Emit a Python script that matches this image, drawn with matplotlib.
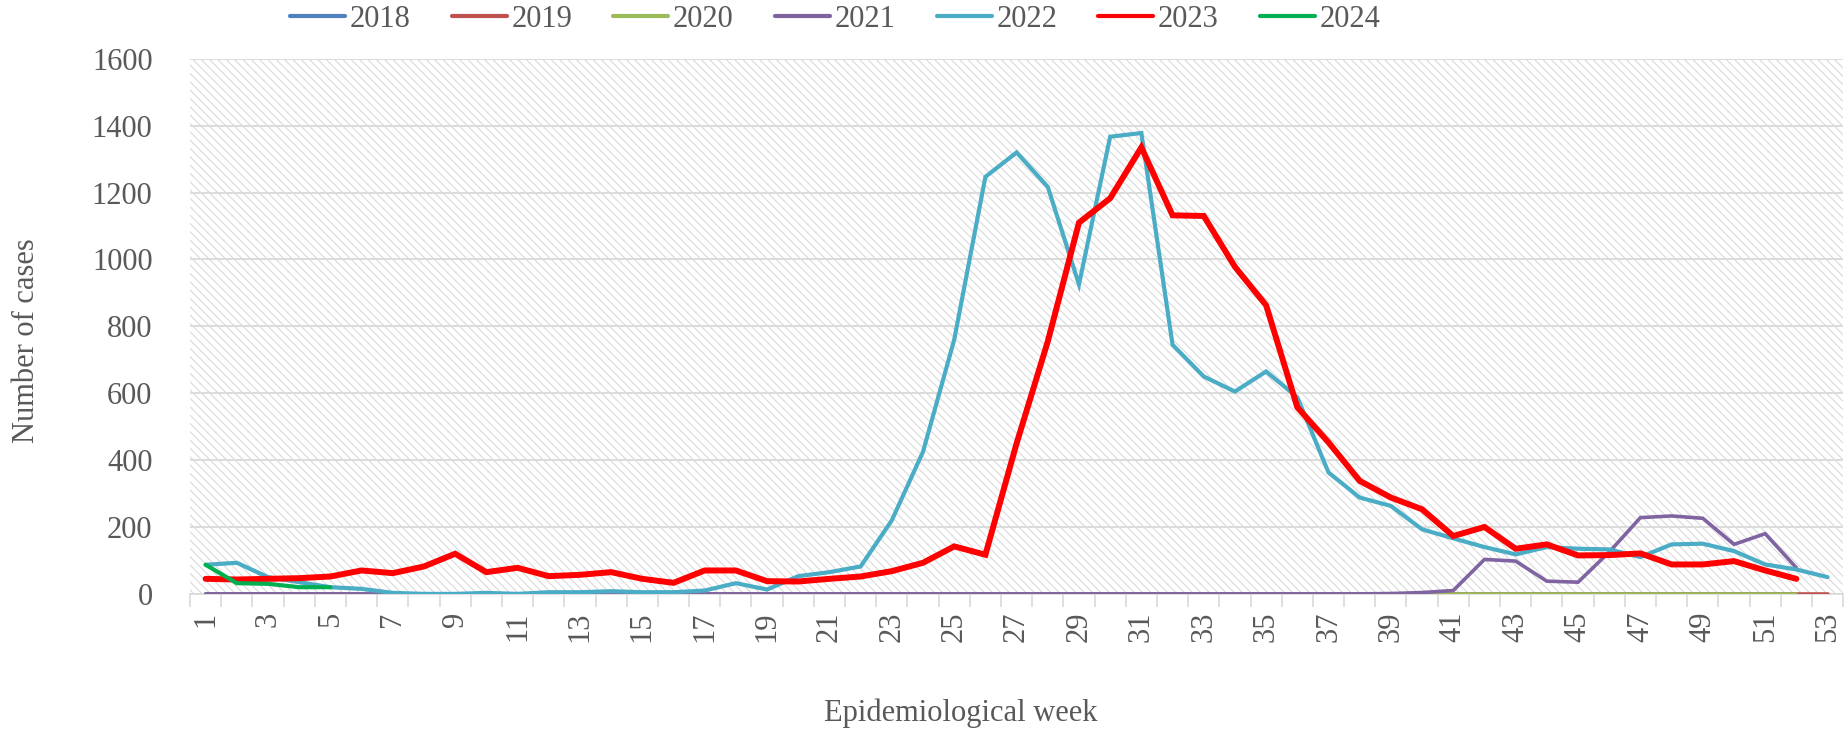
import matplotlib
matplotlib.use("Agg")
import matplotlib.pyplot as plt
from matplotlib.patches import Rectangle
import numpy as np

# weekly case counts per year
y2018 = [0, 0, 0, 0, 0, 0, 0, 0, 0, 0, 0, 0, 0, 0, 0, 0, 0, 0, 0, 0, 0, 0, 0, 0, 0, 0,
         0, 0, 0, 0, 0, 0, 0, 0, 0, 0, 0, 0, 0, 0, 0, 0, 0, 0, 0, 0, 0, 0, 0, 0, 0, 0]
y2019 = [0, 0, 0, 0, 0, 0, 0, 0, 0, 0, 0, 0, 0, 0, 0, 0, 0, 0, 0, 0, 0, 0, 0, 0, 0, 0,
         0, 0, 0, 0, 0, 0, 0, 0, 0, 0, 0, 0, 0, 0, 0, 0, 0, 0, 0, 0, 0, 0, 0, 0, 0, 0, 0]
y2020 = [0, 0, 0, 0, 0, 0, 0, 0, 0, 0, 0, 0, 0, 0, 0, 0, 0, 0, 0, 0, 0, 0, 0, 0, 0, 0,
         0, 0, 0, 0, 0, 0, 0, 0, 0, 0, 0, 0, 0, 0, 0, 0, 0, 0, 0, 0, 0, 0, 0, 0, 0, 0]
y2021 = [0, 0, 0, 0, 0, 0, 0, 0, 0, 0, 0, 0, 0, 0, 0, 0, 0, 0, 0, 0, 0, 0, 0, 0, 0, 0,
         0, 0, 0, 0, 0, 0, 0, 0, 0, 0, 0, 0, 1, 4, 10, 103, 98, 38, 35, 125, 228, 233,
         226, 148, 180, 78]
y2022 = [87, 93, 50, 35, 20, 15, 3, 0, 0, 3, 0, 5, 5, 8, 5, 5, 10, 32, 13, 53, 65, 82,
         220, 425, 760, 1247, 1320, 1217, 925, 1367, 1378, 745, 650, 605, 665, 588, 363,
         288, 263, 193, 166, 140, 118, 140, 135, 133, 110, 148, 150, 128, 88, 73, 50]
y2023 = [45, 43, 45, 47, 52, 70, 62, 82, 120, 65, 78, 53, 57, 65, 45, 33, 70, 70, 38,
         37, 45, 52, 68, 93, 142, 117, 450, 755, 1110, 1183, 1335, 1132, 1130, 978, 863,
         558, 453, 338, 288, 253, 173, 200, 135, 148, 115, 116, 121, 88, 88, 98, 70, 45]
y2024 = [87, 32, 30, 20, 20]

years = ['2018', '2019', '2020', '2021', '2022', '2023', '2024']
series = [y2018, y2019, y2020, y2021, y2022, y2023, y2024]
colors = ['#4F81BD', '#C0504D', '#9BBB59', '#8064A2', '#4BACC6', '#FF0000', '#00B050']
widths = [2.6, 2.6, 2.6, 2.6, 3.0, 4.3, 3.0]
weeks = np.arange(1, 54)
odd_weeks = weeks[::2]

txt = '#595959'
plt.rcParams['font.family'] = ['Liberation Serif', 'DejaVu Serif']
plt.rcParams['hatch.linewidth'] = 0.8

fig = plt.figure(figsize=(18.45, 7.35), dpi=100)
ax = fig.add_axes([0.103, 0.192, 0.896, 0.728])

# hatched plot area
ax.add_patch(Rectangle((0, 0), 1, 1, transform=ax.transAxes, facecolor='white',
                       edgecolor='#dadada', hatch='\\\\\\\\', linewidth=0, zorder=0.1))

for name, vals, c, lw in zip(years, series, colors, widths):
    ax.plot(weeks[:len(vals)], vals, color=c, lw=lw, label=name,
            solid_joinstyle='miter', solid_capstyle='round', zorder=3)

ax.set_xlim(0.5, 53.5)
ax.set_ylim(0, 1600)
ax.set_yticks(np.arange(0, 1601, 200))
ax.yaxis.grid(True, color='#dcdcdc', lw=1.4, zorder=0.5)
ax.set_axisbelow(True)

ax.set_xticks(odd_weeks)
ax.set_xticklabels([str(w) for w in odd_weeks], rotation=90)
ax.set_xticks(np.arange(0.5, 54, 1), minor=True)
ax.tick_params(axis='x', which='major', length=0, pad=13, labelsize=22, labelcolor=txt)
ax.tick_params(axis='x', which='minor', length=9, width=1.2, color='#d9d9d9')
ax.tick_params(axis='y', length=0, pad=27, labelsize=22, labelcolor=txt)

for s in ['top', 'right', 'left']:
    ax.spines[s].set_visible(False)
ax.spines['bottom'].set_color('#d9d9d9')
ax.spines['bottom'].set_linewidth(1.2)

fig.text(0.0141, 0.537, 'Number of cases', rotation=90, ha='center', va='center',
         fontsize=22, color=txt)
fig.text(0.521, 0.030, 'Epidemiological week', ha='center', va='center',
         fontsize=22, color=txt)

leg = fig.legend(loc='center', bbox_to_anchor=(0.4527, 0.974), ncol=7, frameon=False,
                 fontsize=22, handlelength=1.8, handletextpad=0.15, columnspacing=1.35,
                 labelcolor=txt)
for line in leg.get_lines():
    line.set_linewidth(3)

fig.savefig('out.png', dpi=100)
plt.close(fig)
